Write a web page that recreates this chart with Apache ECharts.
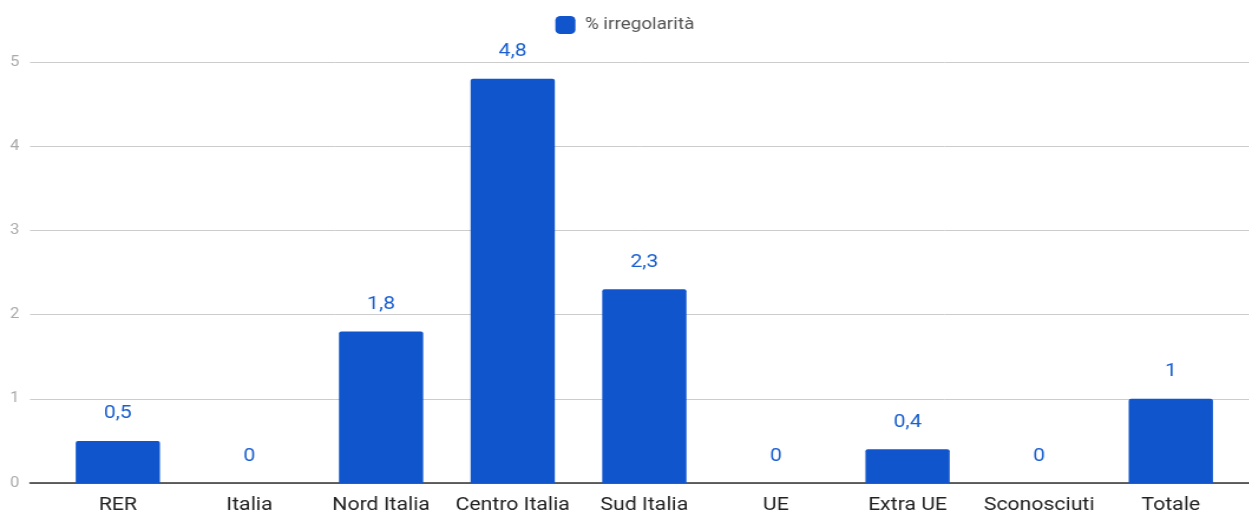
<!DOCTYPE html>
<html><head><meta charset="utf-8">
<script src="https://cdn.jsdelivr.net/npm/echarts@6/dist/echarts.min.js"></script>
<style>html,body{margin:0;padding:0;background:#fff;overflow:hidden}
#c{width:1058.5px;height:512px;transform:scaleX(1.18);transform-origin:0 0}</style>
</head><body><div id="c"></div>
<script>
const categories = ['RER','Italia','Nord Italia','Centro Italia','Sud Italia','UE','Extra UE','Sconosciuti','Totale'];
const values = [0.5, 0, 1.8, 4.8, 2.3, 0, 0.4, 0, 1];
const seriesName = '% irregolarità';
const yTicks = [0,1,2,3,4,5];

const S = 1.18;
const chart = echarts.init(document.getElementById('c'));
chart.setOption({
  animation:false,
  textStyle:{fontFamily:'Roboto'},
  legend:{top:11,left:'center',itemWidth:17,itemHeight:18,itemGap:10,
    textStyle:{fontSize:16,color:'#555',fontFamily:'Roboto',padding:[0,0,0,3]},
    data:[{name:seriesName,icon:'roundRect'}]},
  grid:[
    {left:30/S,right:0,top:62,bottom:29,containLabel:false,outerBoundsMode:'none'},
    {left:52/S,right:13/S,top:62,bottom:29,containLabel:false,outerBoundsMode:'none'}
  ],
  xAxis:[
    {type:'value',gridIndex:0,min:0,max:1,show:true,axisLabel:{show:false},axisTick:{show:false},
     splitLine:{show:false},axisLine:{show:true,lineStyle:{color:'#333',width:1.5}}},
    {type:'category',gridIndex:1,data:categories,axisLine:{show:false},axisTick:{show:false},
     axisLabel:{fontSize:18,color:'#222',margin:13,interval:0,fontFamily:'Roboto'}}
  ],
  yAxis:[
    {type:'value',gridIndex:0,min:0,max:5,interval:1,
     axisLabel:{fontSize:14,color:'#aaa',margin:9,fontFamily:'Roboto',
       formatter:v=>String(yTicks[v] !== undefined ? yTicks[v] : v)},
     axisLine:{show:false},axisTick:{show:false},
     splitLine:{lineStyle:{color:'#ccc',width:1}}},
    {type:'value',gridIndex:1,min:0,max:5,interval:1,show:false,splitLine:{show:false}}
  ],
  series:[{
    name:seriesName,type:'bar',xAxisIndex:1,yAxisIndex:1,data:values,
    barCategoryGap:'36%',
    itemStyle:{color:'#1155cc',borderRadius:[2,2,0,0]},
    label:{show:true,position:'top',distance:18,fontSize:18,color:'#1a5fd0',fontFamily:'Roboto',
      formatter:p=>String(p.value).replace('.',',')}
  }]
});
</script></body></html>
